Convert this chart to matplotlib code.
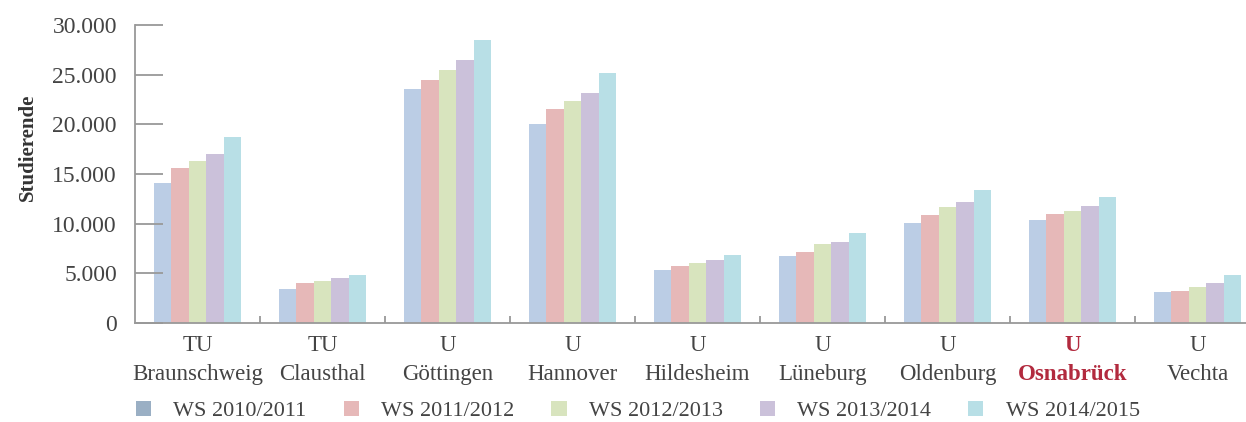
import matplotlib.pyplot as plt
from matplotlib.patches import Patch
import numpy as np

plt.rcParams['font.family'] = ['Liberation Serif', 'DejaVu Serif']

unis = ['TU\nBraunschweig', 'TU\nClausthal', 'U\nGöttingen', 'U\nHannover', 'U\nHildesheim',
        'U\nLüneburg', 'U\nOldenburg', 'U\nOsnabrück', 'U\nVechta']
semesters = ['WS 2010/2011', 'WS 2011/2012', 'WS 2012/2013', 'WS 2013/2014', 'WS 2014/2015']

ws1011 = [14080, 3420, 23550, 20040, 5360, 6770, 10030, 10360, 3120]
ws1112 = [15590, 4020, 24470, 21550, 5760, 7170, 10830, 10960, 3220]
ws1213 = [16290, 4250, 25470, 22360, 6060, 7950, 11630, 11260, 3620]
ws1314 = [17000, 4520, 26480, 23160, 6370, 8150, 12230, 11770, 3990]
ws1415 = [18730, 4830, 28460, 25170, 6870, 9020, 13370, 12670, 4800]
series = [ws1011, ws1112, ws1213, ws1314, ws1415]

colors = ['#BBCDE5', '#E6B8B8', '#D8E4BE', '#CBC1DA', '#B8DFE6']
legend_colors = ['#9AAFC4', '#E6B8B8', '#D8E4BE', '#CBC1DA', '#B8DFE6']

fig = plt.figure(figsize=(12.46, 4.22), dpi=100)
ax = fig.add_axes([0.1083, 0.2346, 0.8917, 0.7062])

x = np.arange(len(unis))
w = 0.14
for i, vals in enumerate(series):
    ax.bar(x + (i - 2) * w, vals, width=w, color=colors[i], linewidth=0)

ax.set_xlim(-0.5, -0.5 + 1111 / 125)
ax.set_ylim(0, 30000)
ax.set_yticks(np.arange(0, 30001, 5000))
ax.set_yticklabels(['0', '5.000', '10.000', '15.000', '20.000', '25.000', '30.000'])
ax.set_xticks(x)
ax.set_xticklabels(unis, linespacing=1.5)
ax.set_xticks(np.arange(0.5, 8.5, 1), minor=True)

for s in ['top', 'right']:
    ax.spines[s].set_visible(False)
for s in ['left', 'bottom']:
    ax.spines[s].set_color('#999999')
    ax.spines[s].set_linewidth(1.3)

ax.tick_params(axis='y', direction='in', length=20, width=1.3, color='#999999',
               labelsize=17, labelcolor='#444444', pad=13)
ax.tick_params(axis='x', which='major', length=0, labelsize=16.5, labelcolor='#444444', pad=9)
ax.tick_params(axis='x', which='minor', direction='in', length=5, width=1.3, color='#999999')

lbl = ax.get_xticklabels()[7]
lbl.set_color('#B22A3E')
lbl.set_fontweight('bold')

ax.set_ylabel('Studierende', fontsize=15, fontweight='bold', color='#333333')
ax.yaxis.set_label_coords(-0.087, 0.59)

handles = [Patch(facecolor=c, edgecolor='none') for c in legend_colors]
fig.legend(handles, semesters, loc='center', bbox_to_anchor=(0.512, 0.026), ncol=5,
           frameon=False, fontsize=16, handlelength=0.68, handleheight=0.68,
           columnspacing=1.67, handletextpad=1.0, labelcolor='#444444')

fig.savefig('out.png', dpi=100)
